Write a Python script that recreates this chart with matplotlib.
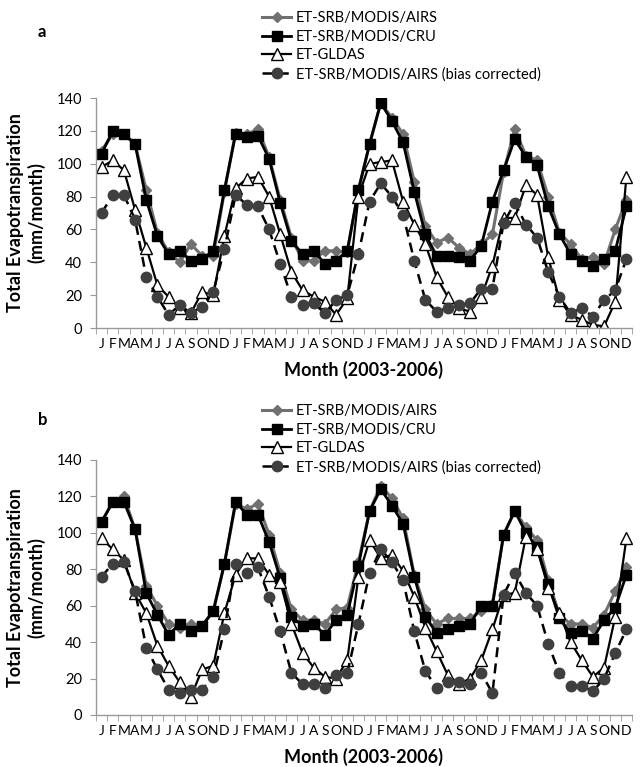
import matplotlib
matplotlib.use("Agg")
import matplotlib.pyplot as plt
import numpy as np

months = ['J','F','M','A','M','J','J','A','S','O','N','D'] * 4
series_names = ["ET-SRB/MODIS/AIRS", "ET-SRB/MODIS/CRU", "ET-GLDAS",
                "ET-SRB/MODIS/AIRS (bias corrected)"]

airs_a = [108,118,118,112,84,58,46,40,51,44,44,83,
          119,118,121,104,78,55,41,41,47,47,46,84,
          112,137,128,118,89,62,52,55,49,45,51,57,
          95,121,105,102,80,58,51,42,43,39,60,78]
cru_a = [106,120,118,112,78,56,45,47,41,42,47,84,
         118,116,117,103,76,53,45,47,39,41,47,84,
         112,137,126,113,83,57,44,44,43,41,50,77,
         96,115,104,99,74,57,45,41,38,42,47,74]
gldas_a = [98,102,96,72,49,26,19,12,9,22,20,56,
           85,91,92,80,57,34,23,19,16,8,18,80,
           100,101,102,77,63,51,31,19,12,10,19,38,
           67,67,87,81,43,17,8,5,2,1,16,92]
bias_a = [70,81,81,66,31,19,8,14,9,13,22,48,
          81,75,74,60,39,19,14,15,9,17,20,45,
          77,88,80,69,41,17,10,12,14,15,24,24,
          64,76,63,55,34,19,9,12,7,17,23,42]

airs_b = [106,117,120,102,71,60,50,48,50,49,57,83,
          116,113,116,99,78,58,52,52,50,58,59,84,
          112,126,119,108,77,58,50,53,53,53,57,61,
          99,112,103,96,74,55,50,50,48,55,68,81]
cru_b = [106,117,117,102,67,55,44,50,46,49,57,83,
         117,110,110,95,75,54,49,50,44,52,55,82,
         112,124,115,105,76,54,45,47,49,50,60,60,
         99,112,100,92,72,53,45,46,42,52,59,77]
gldas_b = [97,91,85,67,56,38,27,18,10,25,27,56,
           77,86,86,77,73,50,34,26,21,20,30,76,
           96,86,88,79,65,48,35,22,17,20,30,47,
           66,67,98,91,70,56,40,30,21,26,54,97]
bias_b = [76,83,84,68,37,25,14,12,14,14,21,47,
          83,78,81,65,46,23,17,17,15,22,23,50,
          78,91,84,74,46,24,15,18,18,17,23,12,
          66,78,67,60,39,23,16,16,13,20,34,47]

plt.rcParams['font.family'] = ['Lato', 'DejaVu Sans']

W, H = 640, 767
fig = plt.figure(figsize=(W/100, H/100), dpi=100)

def rect(l, t, r, b):
    return [l/W, 1 - b/H, (r-l)/W, (b-t)/H]

styles = [
    dict(color='#707070', lw=2.2, marker='D', ms=5.5, mfc='#707070', mec='#707070', ls='-'),
    dict(color='black', lw=2.0, marker='s', ms=7, mfc='black', mec='black', ls='-'),
    dict(color='black', lw=1.6, marker='^', ms=8, mfc='white', mec='black', mew=1.0, ls='-'),
    dict(color='black', lw=1.8, marker='o', ms=7.5, mfc='#3f3f3f', mec='#3f3f3f', ls=(0, (4, 2.5))),
]

def panel(rct, data, letter, letter_y, leg_top):
    ax = fig.add_axes(rct)
    x = np.arange(len(months))
    handles = []
    for vals, st, nm in zip(data, styles, series_names):
        h, = ax.plot(x, vals, label=nm, **st)
        handles.append(h)
    ax.set_xlim(-0.5, len(months) - 0.5)
    ax.set_ylim(0, 140)
    ax.set_yticks(range(0, 141, 20))
    ax.set_xticks(x)
    ax.set_xticklabels(months, fontsize=10)
    ax.set_xticks(np.arange(-0.5, len(months), 1), minor=True)
    ax.tick_params(axis='x', which='major', length=0, pad=7)
    ax.tick_params(axis='x', which='minor', length=4, color='#999999', direction='out')
    ax.tick_params(axis='y', length=4, color='#999999', labelsize=10.5, pad=6)
    for s in ['top', 'right']:
        ax.spines[s].set_visible(False)
    for s in ['left', 'bottom']:
        ax.spines[s].set_color('#999999')
        ax.spines[s].set_linewidth(1.0)
    ax.set_xlabel('Month (2003-2006)', fontsize=13, fontweight='bold', labelpad=8)
    ax.set_ylabel('Total Evapotranspiration\n(mm/month)', fontsize=13, fontweight='bold', labelpad=8)
    fig.text(38/W, 1 - letter_y/H, letter, fontsize=12, fontweight='bold', va='center', ha='left')
    fig.legend(handles=handles, loc='upper left', bbox_to_anchor=(262/W, 1 - leg_top/H),
               frameon=False, fontsize=10.5, handlelength=2.0, handletextpad=0.3,
               labelspacing=0.32, borderpad=0, borderaxespad=0)
    return ax

panel(rect(96, 98, 632, 328), [airs_a, cru_a, gldas_a, bias_a], 'a', 32, 11)
panel(rect(96, 460, 632, 715), [airs_b, cru_b, gldas_b, bias_b], 'b', 420, 404)

fig.savefig('out.png', dpi=100)
